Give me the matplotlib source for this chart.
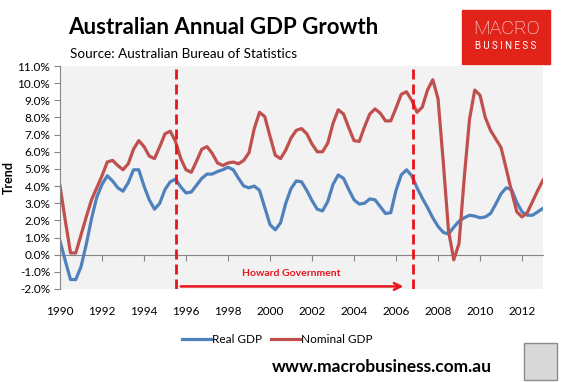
import numpy as np
import matplotlib
matplotlib.use('Agg')
import matplotlib.pyplot as plt
from matplotlib.patches import Rectangle

plt.rcParams['font.family'] = ['Lato', 'DejaVu Sans']

# quarterly trend, annual growth in %, 1990 Q1 .. 2013 Q1
quarters = 1990 + 0.25 * np.arange(93)
real_gdp = [0.8, -0.35, -1.45, -1.45, -0.7, 0.6, 2.1, 3.35, 4.1, 4.6,
            4.3, 3.9, 3.7, 4.2, 4.95, 4.95, 4.0, 3.2, 2.65, 3.0,
            3.8, 4.25, 4.4, 3.95, 3.6, 3.65, 4.05, 4.45, 4.7, 4.7,
            4.85, 4.95, 5.1, 4.95, 4.45, 4.0, 3.9, 4.0, 3.75, 2.75,
            1.75, 1.45, 1.85, 3.0, 3.85, 4.3, 4.25, 3.75, 3.15, 2.65,
            2.55, 3.1, 4.1, 4.65, 4.45, 3.8, 3.2, 2.95, 3.0, 3.25,
            3.2, 2.8, 2.4, 2.45, 3.75, 4.65, 4.95, 4.6, 3.9, 3.3,
            2.75, 2.15, 1.65, 1.3, 1.2, 1.6, 1.95, 2.15, 2.3, 2.25,
            2.15, 2.2, 2.4, 2.95, 3.55, 3.9, 3.8, 3.05, 2.5, 2.3,
            2.3, 2.5, 2.7]
nominal_gdp = [4.0, 2.0, 0.1, 0.1, 1.15, 2.2, 3.2, 3.9, 4.6, 5.4,
               5.5, 5.2, 4.95, 5.3, 6.15, 6.65, 6.3, 5.75, 5.6, 6.3,
               7.05, 7.2, 6.6, 5.6, 4.95, 4.8, 5.45, 6.15, 6.3, 5.9,
               5.35, 5.2, 5.35, 5.4, 5.3, 5.5, 5.95, 7.35, 8.3, 8.05,
               6.9, 5.8, 5.6, 6.1, 6.8, 7.25, 7.35, 7.05, 6.45, 6.0,
               6.0, 6.5, 7.65, 8.45, 8.2, 7.4, 6.65, 6.6, 7.45, 8.2,
               8.5, 8.25, 7.8, 7.8, 8.55, 9.35, 9.5, 9.0, 8.3, 8.6,
               9.6, 10.2, 9.1, 5.4, 1.4, -0.3, 0.65, 4.5, 7.9, 9.6,
               9.3, 8.0, 7.25, 6.75, 6.25, 5.0, 3.7, 2.5, 2.2, 2.45,
               3.1, 3.75, 4.35]
label_years = list(range(1990, 2013, 2))
howard_start = 1995.5
howard_end = 2006.8

blue = '#4F81BD'
red = '#C0504D'
bright_red = '#E8141B'
axis_grey = '#868686'

fig = plt.figure(figsize=(5.63, 3.82), dpi=100)
ax = fig.add_axes([0.1066, 0.2435, 0.8579, 0.5837])
ax.set_facecolor('#F2F2F2')

ax.plot(quarters, real_gdp, color=blue, lw=2.3, label='Real GDP', solid_joinstyle='round')
ax.plot(quarters, nominal_gdp, color=red, lw=2.3, label='Nominal GDP', solid_joinstyle='round')

ax.set_xlim(quarters[0], quarters[-1])
ax.set_ylim(-2, 11)

# y axis
yt = np.arange(-2, 12, 1)
ax.set_yticks(yt)
ax.set_yticklabels([f'{v:.1f}%' for v in yt], fontsize=8.5)
ax.tick_params(axis='y', direction='out', length=4, color=axis_grey, pad=3)
ax.set_ylabel('Trend', fontsize=9, fontweight='bold', labelpad=2)
for s in ['top', 'right', 'bottom']:
    ax.spines[s].set_visible(False)
ax.spines['left'].set_color(axis_grey)

# year labels along the bottom
ax.set_xticks(label_years)
ax.set_xticklabels([str(y) for y in label_years], fontsize=8.5)
ax.tick_params(axis='x', length=0, pad=12)

# zero axis with tick marks
zero_axis = ax.secondary_xaxis(2 / 13)
zero_axis.set_xticks(label_years[1:])
zero_axis.set_xticklabels([])
zero_axis.tick_params(direction='out', length=4, color=axis_grey)
for s in zero_axis.spines.values():
    s.set_color(axis_grey)

# Howard government
for x in [howard_start, howard_end]:
    ax.axvline(x, color=bright_red, lw=2, ls=(0, (3.6, 1.8)))
ax.annotate('', xy=(2006.35, -1.85), xytext=(1995.75, -1.85),
            arrowprops=dict(arrowstyle='->', color=bright_red, lw=1.8,
                            mutation_scale=12, shrinkA=0, shrinkB=0))
ax.text(2001.0, -1.12, 'Howard Government', color=bright_red, fontsize=7.5,
        fontweight='bold', ha='center', va='center')

ax.legend(loc='center', bbox_to_anchor=(0.45, -0.225), ncol=2, frameon=False,
          fontsize=8.5, handlelength=2.4, handletextpad=0.1, columnspacing=0.8)

# titles
fig.text(68 / 563, 1 - 28 / 382, 'Australian Annual GDP Growth', fontsize=16,
         fontweight='bold', ha='left', va='center')
fig.text(70 / 563, 1 - 54 / 382, 'Source: Australian Bureau of Statistics', fontsize=9.7,
         ha='left', va='center')

# logo
fig.patches.append(Rectangle((462 / 563, 1 - 64 / 382), 88 / 563, 54 / 382,
                             transform=fig.transFigure, color='#E2231A', zorder=1))
fig.text(506 / 563, 1 - 29 / 382, 'MACRO', color='white', fontsize=14,
         family='Roboto', fontweight='light', ha='center', va='center', zorder=2)
fig.text(506 / 563, 1 - 46 / 382, 'B U S I N E S S', color='white', fontsize=7,
         family='Roboto', ha='center', va='center', zorder=2)

# footer
fig.text(382 / 563, 1 - 367 / 382, 'www.macrobusiness.com.au', fontsize=12.5,
         fontweight='bold', ha='center', va='center')
fig.patches.append(Rectangle((524 / 563, 1 - 380 / 382), 33 / 563, 37 / 382,
                             transform=fig.transFigure, facecolor='#D9D9D9',
                             edgecolor='#8C8C8C', lw=1, zorder=1))

fig.savefig('out.png', dpi=100)
